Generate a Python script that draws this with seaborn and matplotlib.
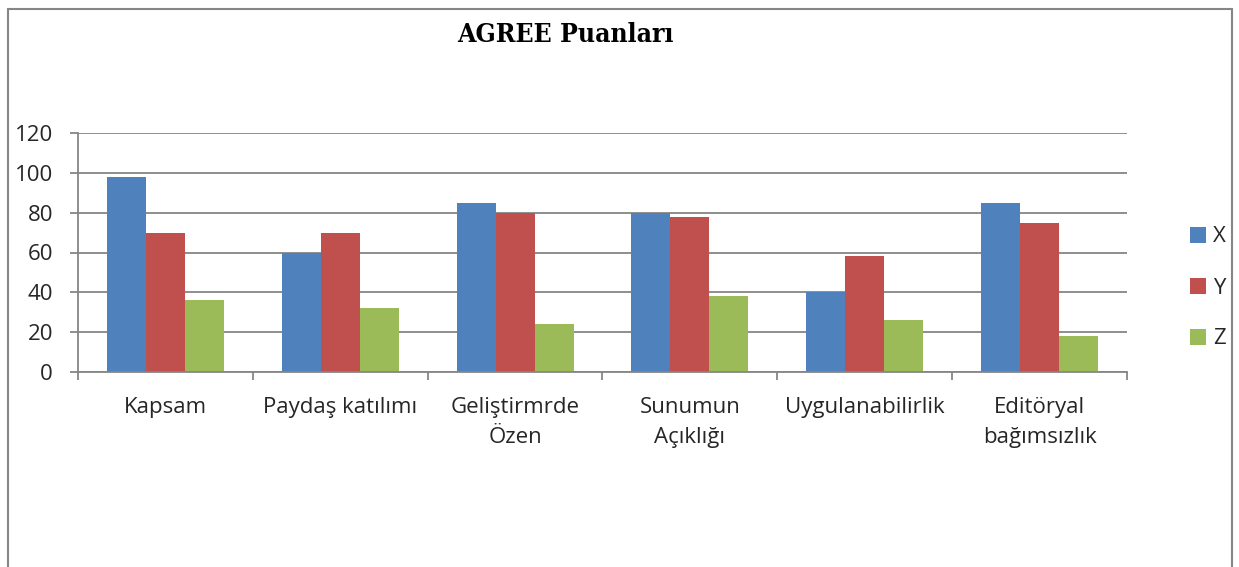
import matplotlib
matplotlib.use("Agg")
import matplotlib.pyplot as plt
from matplotlib.lines import Line2D
from matplotlib.ticker import FixedLocator
from matplotlib import font_manager as fm
import seaborn as sns
import pandas as pd

categories = ["Kapsam", "Paydaş katılımı", "Geliştirmrde\nÖzen", "Sunumun\nAçıklığı",
              "Uygulanabilirlik", "Editöryal\nbağımsızlık"]
series_names = ["X", "Y", "Z"]
x_values = [98, 60, 85, 80, 40, 85]
y_values = [70, 70, 80, 78, 58, 75]
z_values = [36, 32, 24, 38, 26, 18]
y_ticks = [0, 20, 40, 60, 80, 100, 120]
title = "AGREE Puanları"
colors = ["#4F81BD", "#C0504D", "#9BBB59"]

rows = []
for name, vals in zip(series_names, [x_values, y_values, z_values]):
    for c, v in zip(categories, vals):
        rows.append({"cat": c, "series": name, "value": v})
df = pd.DataFrame(rows)

sns.set_theme(style="white")
plt.rcParams["font.family"] = ["Open Sans", "DejaVu Sans"]

W, H = 1239, 567
fig = plt.figure(figsize=(W / 100, H / 100), dpi=100)
ax = fig.add_axes([78 / W, 1 - 372 / H, (1127 - 78) / W, (372 - 133) / H])

sns.barplot(data=df, x="cat", y="value", hue="series", order=categories,
            hue_order=series_names, palette=colors, width=0.67, gap=0,
            saturation=1, ax=ax, edgecolor="none", linewidth=0, errorbar=None)

FS = 16
ax.set_ylim(0, 120)
ax.set_xlim(-0.5, len(categories) - 0.5)
ax.set_yticks(y_ticks)
ax.set_yticklabels([str(t) for t in y_ticks], fontsize=FS)
ax.yaxis.grid(True, color="#868686", linewidth=1.3)
ax.set_axisbelow(True)
ax.set_xlabel("")
ax.set_ylabel("")

ax.set_xticks(range(len(categories)))
ax.set_xticklabels(categories, fontsize=FS, linespacing=1.55)
ax.xaxis.set_minor_locator(FixedLocator([i - 0.5 for i in range(len(categories) + 1)]))
ax.tick_params(axis="x", which="major", length=0, pad=18)
ax.tick_params(axis="x", which="minor", length=6, width=1.3, color="#868686", direction="out", bottom=True)
ax.tick_params(axis="y", which="major", length=6, width=1.3, color="#868686", pad=12, left=True)

for s in ["top", "right"]:
    ax.spines[s].set_visible(False)
for s in ["left", "bottom"]:
    ax.spines[s].set_color("#868686")
    ax.spines[s].set_linewidth(1.3)

handles, labels = ax.get_legend_handles_labels()
ax.legend(handles, labels, loc="center left", bbox_to_anchor=(1170 / W, 1 - 288 / H),
          bbox_transform=fig.transFigure, frameon=False, fontsize=FS,
          handlelength=0.7, handleheight=0.7, handletextpad=0.35, labelspacing=1.35)

# title: prefer a condensed serif face if one is installed
cond = None
for f in fm.fontManager.ttflist:
    if "Serif" in f.name and ("Condensed" in f.fname) and "Bold" in f.fname and "Italic" not in f.fname and "Oblique" not in f.fname:
        cond = f.fname
        break
if cond:
    tprops = dict(fontproperties=fm.FontProperties(fname=cond, size=19))
else:
    tprops = dict(fontsize=19, fontweight="bold", family=["Liberation Serif", "DejaVu Serif"])
fig.text(565 / W, 1 - 42 / H, title, ha="center", va="baseline", color="black", **tprops)

# chart border (bottom edge out of view)
bc = "#868686"
fig.add_artist(Line2D([8 / W, 8 / W], [0, 1 - 9 / H], color=bc, lw=1.5, transform=fig.transFigure))
fig.add_artist(Line2D([8 / W, 1232 / W], [1 - 9 / H, 1 - 9 / H], color=bc, lw=1.5, transform=fig.transFigure))
fig.add_artist(Line2D([1232 / W, 1232 / W], [0, 1 - 9 / H], color=bc, lw=1.5, transform=fig.transFigure))

fig.savefig("out.png", dpi=100)
